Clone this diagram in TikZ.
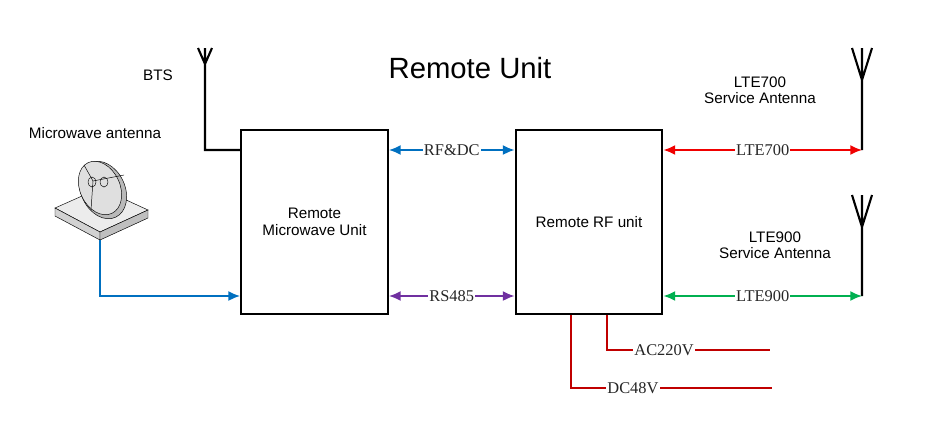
\documentclass[tikz,border=0pt]{standalone}
\usepackage{fontspec}
\setmainfont{Liberation Sans}
\newfontfamily\lblfont{Liberation Serif}
\usetikzlibrary{arrows.meta,positioning,calc}
\definecolor{linkblue}{RGB}{0,112,192}
\definecolor{linkred}{RGB}{240,0,0}
\definecolor{linkpurple}{RGB}{112,48,160}
\definecolor{linkgreen}{RGB}{0,176,80}
\definecolor{powerred}{RGB}{192,0,0}
\tikzset{
  unit/.style={draw, line width=1.8pt, minimum width=44mm, minimum height=55.2mm, align=center, font=\fontsize{13}{15}\selectfont},
  link/.style={{Latex[length=3.5mm,width=3mm]}-{Latex[length=3.5mm,width=3mm]}, line width=1.6pt},
  feed/.style={-{Latex[length=3.5mm,width=3mm]}, line width=1.6pt},
  lbl/.style={fill=white, inner sep=1pt, text=black!85, font=\lblfont\fontsize{14}{16}\selectfont},
  note/.style={align=center, font=\fontsize{13}{14}\selectfont, inner sep=0pt},
  antenna/.style={line width=1.8pt},
}
\begin{document}
\begin{tikzpicture}[x=0.3mm, y=-0.3mm]
  \useasboundingbox (0,0) rectangle (931,432);
  \node[unit] (rmu) at (314.5,222) {Remote\\Microwave Unit};
  \node[unit] (rru) at (589,222) {Remote RF unit};
  \node[font=\fontsize{25}{28}\selectfont] (title) at (470,68) {Remote Unit};

  % BTS antenna
  \coordinate (btstop) at (205,64);
  \draw[antenna] (198,48) -- (btstop) -- (212,48) (205,48) -- (btstop) -- (205,150) -- (rmu.west |- 0,150);
  \node[note] (bts) at (158,75) {BTS};

  % microwave dish
  \node[note] (mwlabel) at (95,133) {Microwave antenna};
  \draw[fill=gray!15] (55,208) -- (100,188) -- (148,210) -- (100,232) -- cycle;
  \draw[fill=gray!35] (55,208) -- (100,232) -- (100,240) -- (55,216) -- cycle;
  \draw[fill=gray!50] (100,232) -- (148,210) -- (148,218) -- (100,240) -- cycle;
  \draw[fill=gray!55, rotate around={25:(103,190)}] (103,190) ellipse (22 and 30);
  \draw[fill=gray!25, rotate around={25:(100,188)}] (100,188) ellipse (20 and 28);
  \draw (93,181) -- (84,165) (93,181) -- (91,210) (93,181) -- (124,175);
  \draw (92,182) ellipse (4 and 5) (104,182) ellipse (4 and 5);
  \coordinate (dish) at (100,240);
  \draw[feed, linkblue] (dish) -- (100,296) -- (rmu.west |- 0,296);

  % links between units
  \draw[link, linkblue] (rmu.east |- 0,150) -- node[lbl] {RF\&DC} (rru.west |- 0,150);
  \draw[link, linkpurple] (rmu.east |- 0,296) -- node[lbl] {RS485} (rru.west |- 0,296);

  % service antennas
  \coordinate (ant7) at (862,150);
  \coordinate (ant9) at (862,296);
  \draw[antenna] (852,48) -- (862,80) -- (872,48) (862,48) -- (862,80) -- (ant7);
  \draw[antenna] (852,195) -- (862,227) -- (872,195) (862,195) -- (862,227) -- (ant9);
  \node[note] (lte7) at (760,90) {LTE700\\Service Antenna};
  \node[note] (lte9) at (775,245) {LTE900\\Service Antenna};
  \draw[link, linkred] (rru.east |- 0,150) -- node[lbl] {LTE700} (ant7);
  \draw[link, linkgreen] (rru.east |- 0,296) -- node[lbl] {LTE900} (ant9);

  % power feeds
  \coordinate (ac) at (770,350);
  \coordinate (dc) at (772,388);
  \draw[line width=1.6pt, powerred] (rru.south -| 607,0) -- (607,350) -- (ac);
  \draw[line width=1.6pt, powerred] (rru.south -| 571,0) -- (571,388) -- (dc);
  \node[lbl, anchor=west] (aclbl) at (633,350) {AC220V};
  \node[lbl, anchor=west] (dclbl) at (606,388) {DC48V};
\end{tikzpicture}
\end{document}
